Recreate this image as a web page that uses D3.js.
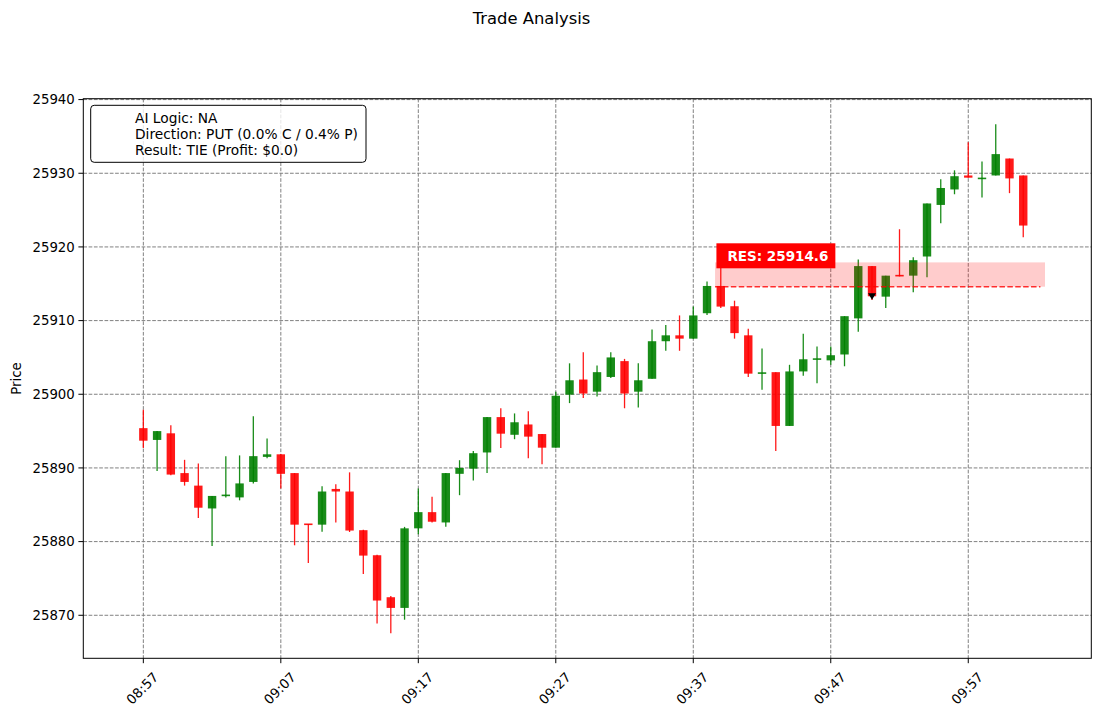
<!DOCTYPE html>
<html>
<head>
<meta charset="utf-8">
<script src="https://cdn.jsdelivr.net/npm/d3@7/dist/d3.min.js"></script>
<style>
  body { margin: 0; background: #fff; }
  svg { display: block; font-family: "DejaVu Sans", sans-serif; }
</style>
</head>
<body>
<svg id="chart" width="1101" height="716"></svg>
<script>
// ---- data ----
const times = ["08:57","08:58","08:59","09:00","09:01","09:02","09:03","09:04","09:05","09:06",
  "09:07","09:08","09:09","09:10","09:11","09:12","09:13","09:14","09:15","09:16",
  "09:17","09:18","09:19","09:20","09:21","09:22","09:23","09:24","09:25","09:26",
  "09:27","09:28","09:29","09:30","09:31","09:32","09:33","09:34","09:35","09:36",
  "09:37","09:38","09:39","09:40","09:41","09:42","09:43","09:44","09:45","09:46",
  "09:47","09:48","09:49","09:50","09:51","09:52","09:53","09:54","09:55","09:56",
  "09:57","09:58","09:59","10:00","10:01"];
const opens = [25895.4,25893.8,25894.7,25889.3,25887.6,25884.5,25886.2,25886.0,25888.1,25891.5,
  25891.85,25889.3,25882.4,25882.3,25887.15,25886.8,25881.55,25878.15,25872.45,25871.0,
  25881.8,25884.0,25882.6,25889.2,25889.9,25892.1,25896.9,25894.5,25895.9,25894.6,
  25892.75,25899.95,25902.0,25900.35,25902.35,25904.5,25900.35,25902.1,25907.2,25908.0,
  25907.55,25911.0,25914.7,25911.95,25908.0,25902.8,25903.0,25895.7,25903.1,25904.7,
  25904.6,25905.4,25910.3,25917.4,25913.25,25916.15,25916.1,25918.7,25925.7,25927.8,
  25929.7,25929.25,25929.7,25932.0,25929.7];
const highs = [25897.9,25895.0,25895.8,25891.1,25890.6,25886.2,25891.6,25891.7,25897.0,25894.0,
  25891.9,25889.3,25882.4,25887.5,25887.8,25889.4,25881.6,25878.2,25872.6,25882.0,
  25887.2,25886.1,25889.3,25891.05,25892.3,25896.9,25898.1,25897.4,25897.7,25894.6,
  25900.35,25904.2,25905.7,25903.9,25905.7,25904.8,25904.2,25908.8,25909.4,25910.7,
  25911.9,25915.3,25917.6,25912.7,25908.9,25906.2,25903.0,25904.0,25908.2,25906.5,
  25906.5,25910.6,25918.3,25917.4,25916.1,25922.4,25918.6,25925.9,25929.2,25930.4,
  25934.2,25931.6,25936.65,25932.0,25929.7];
const lows = [25892.7,25889.6,25889.0,25887.6,25883.2,25879.4,25886.0,25885.6,25887.9,25891.3,
  25887.2,25879.5,25877.1,25881.35,25882.6,25881.3,25875.6,25868.9,25867.55,25869.4,
  25881.0,25882.6,25882.0,25886.3,25888.3,25889.3,25892.7,25893.9,25891.3,25890.5,
  25892.75,25898.8,25899.5,25899.7,25902.2,25898.1,25898.2,25902.1,25905.9,25905.9,
  25907.55,25910.75,25911.7,25907.55,25902.35,25900.6,25892.3,25895.7,25902.5,25901.5,
  25904.0,25903.8,25908.5,25912.8,25911.7,25916.0,25913.85,25915.9,25923.2,25927.15,
  25929.4,25926.7,25929.7,25927.3,25921.3];
const closes = [25893.7,25895.0,25889.1,25888.1,25884.6,25886.2,25886.35,25887.9,25891.6,25891.85,
  25889.2,25882.3,25882.3,25886.8,25886.8,25881.5,25878.1,25872.0,25871.0,25881.8,
  25884.0,25882.7,25889.3,25890.0,25892.0,25896.9,25894.65,25896.2,25894.25,25892.75,
  25899.8,25901.9,25900.1,25903.0,25905.0,25900.1,25901.9,25907.2,25908.0,25907.55,
  25910.7,25914.7,25911.9,25908.3,25902.8,25902.95,25895.7,25903.1,25904.75,25904.85,
  25905.3,25910.6,25917.4,25913.3,25916.1,25916.05,25918.2,25925.9,25928.0,25929.6,
  25929.4,25929.35,25932.6,25929.3,25922.9];
const xTickLabels = ["08:57","09:07","09:17","09:27","09:37","09:47","09:57"];
const yTicks = [25870,25880,25890,25900,25910,25920,25930,25940];
const resLevel = 25914.6;
const resZoneTop = 25917.9;
const resStart = "09:38:35", resEnd = "10:02:35";
const entryTime = "09:50", entryPrice = 25913.3;
const legendLines = ["AI Logic: NA", "Direction: PUT (0.0% C / 0.4% P)", "Result: TIE (Profit: $0.0)"];
const titleText = "Trade Analysis";

// ---- helpers ----
function tm(s) {
  const p = s.split(":").map(Number);
  return new Date(2024, 0, 1, p[0], p[1], p[2] || 0);
}
const candles = times.map((t, i) => ({ t: tm(t), o: opens[i], h: highs[i], l: lows[i], c: closes[i] }));

const svg = d3.select("#chart");
const L = 83.3, R = 1091.3, T = 98.7, B = 658.3;

const x = d3.scaleTime().domain([tm("08:52:38"), tm("10:05:57")]).range([L, R]);
const y = d3.scaleLinear().domain([25864.16, 25940.12]).range([B, T]);

// grid
const grid = svg.append("g");
xTickLabels.forEach(s => {
  grid.append("line").attr("x1", x(tm(s))).attr("x2", x(tm(s))).attr("y1", T).attr("y2", B)
    .attr("stroke", "#808080").attr("stroke-width", 1).attr("stroke-dasharray", "3.7,1.6");
});
yTicks.forEach(v => {
  grid.append("line").attr("x1", L).attr("x2", R).attr("y1", y(v)).attr("y2", y(v))
    .attr("stroke", "#808080").attr("stroke-width", 1).attr("stroke-dasharray", "3.7,1.6");
});

// candles
const bw = 8.4;
const cg = svg.append("g");
candles.forEach(d => {
  const col = d.c >= d.o ? "#008000" : "#ff0000";
  const cx = x(d.t);
  cg.append("line").attr("x1", cx).attr("x2", cx).attr("y1", y(d.h)).attr("y2", y(d.l))
    .attr("stroke", col).attr("stroke-width", 1.3).attr("stroke-opacity", 0.9);
  const top = y(Math.max(d.o, d.c)), bot = y(Math.min(d.o, d.c));
  const hgt = Math.max(bot - top, 1.6);
  cg.append("rect").attr("x", cx - bw / 2).attr("y", (top + bot) / 2 - hgt / 2)
    .attr("width", bw).attr("height", hgt).attr("fill", col).attr("fill-opacity", 0.9);
});

// resistance zone
svg.append("rect").attr("x", x(tm(resStart))).attr("y", y(resZoneTop))
  .attr("width", x(tm(resEnd)) - x(tm(resStart))).attr("height", y(resLevel) - y(resZoneTop))
  .attr("fill", "#ff0000").attr("fill-opacity", 0.2);
svg.append("line").attr("x1", x(tm(resStart))).attr("x2", x(tm("10:02:15")))
  .attr("y1", y(resLevel)).attr("y2", y(resLevel))
  .attr("stroke", "#ff0000").attr("stroke-opacity", 0.8).attr("stroke-width", 1.6)
  .attr("stroke-dasharray", "5.5,2.4");

// entry marker
{
  const ex = x(tm(entryTime)), ey = y(entryPrice);
  svg.append("path").attr("d", `M${ex - 4},${ey - 3} L${ex + 4},${ey - 3} L${ex},${ey + 3.5} Z`)
    .attr("fill", "#000");
}

// RES label
{
  const bx = x(tm("09:38:41"));
  const by = 243.3;
  const g = svg.append("g");
  const rect = g.append("rect").attr("x", bx).attr("y", by).attr("height", 25).attr("fill", "#ff0000");
  const txt = g.append("text").attr("x", bx + 11).attr("y", by + 17.3)
    .attr("fill", "#fff").attr("font-weight", "bold").attr("font-size", "13.5px")
    .text("RES: " + resLevel.toFixed(1));
  const w = txt.node().getComputedTextLength();
  rect.attr("width", w + 18);
}

// axes frame
svg.append("rect").attr("x", L).attr("y", T).attr("width", R - L).attr("height", B - T)
  .attr("fill", "none").attr("stroke", "#000").attr("stroke-width", 1);

// y ticks
yTicks.forEach(v => {
  svg.append("line").attr("x1", L - 4.9).attr("x2", L).attr("y1", y(v)).attr("y2", y(v)).attr("stroke", "#000");
  svg.append("text").attr("x", L - 8.5).attr("y", y(v) + 4.8).attr("text-anchor", "end")
    .attr("font-size", "13.3px").attr("fill", "#000").text(v);
});
// x ticks
xTickLabels.forEach(s => {
  const tx = x(tm(s));
  svg.append("line").attr("x1", tx).attr("x2", tx).attr("y1", B).attr("y2", B + 4.9).attr("stroke", "#000");
  svg.append("text").attr("transform", `translate(${tx - 1},${B + 30}) rotate(-45)`)
    .attr("text-anchor", "middle").attr("dy", "0.35em")
    .attr("font-size", "13.3px").attr("fill", "#000").text(s);
});

// y label
svg.append("text").attr("transform", `translate(21,${(T + B) / 2}) rotate(-90)`)
  .attr("text-anchor", "middle").attr("font-size", "13.3px").text("Price");

// title
svg.append("text").attr("x", 531.5).attr("y", 24).attr("text-anchor", "middle")
  .attr("font-size", "16.4px").text(titleText);

// legend
{
  const g = svg.append("g");
  g.append("rect").attr("x", 90.7).attr("y", 105.3).attr("width", 275.3).attr("height", 57)
    .attr("rx", 3.5).attr("fill", "#fff").attr("fill-opacity", 0.8).attr("stroke", "#000").attr("stroke-width", 1);
  legendLines.forEach((s, i) => {
    g.append("text").attr("x", 135).attr("y", 123.3 + i * 15.6).attr("font-size", "13.75px").text(s);
  });
}
</script>
</body>
</html>
